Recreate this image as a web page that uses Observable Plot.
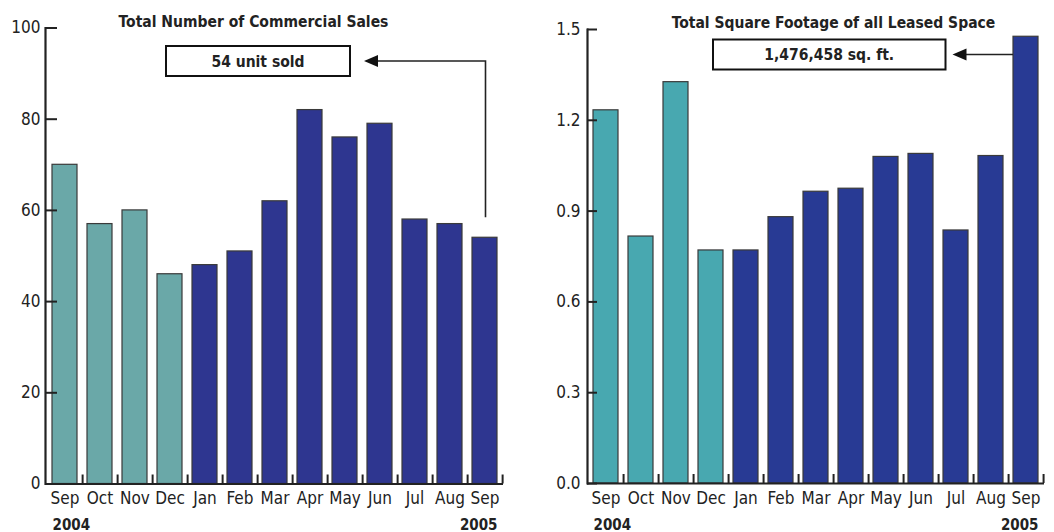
<!DOCTYPE html>
<html><head><meta charset="utf-8">
<script src="https://cdn.jsdelivr.net/npm/d3@7"></script>
<script src="https://cdn.jsdelivr.net/npm/@observablehq/plot@0.6"></script>
<style>
body{margin:0;background:#fff;}
#wrap{display:flex;width:1054px;height:532px;}
</style></head><body><div id="wrap"></div>
<script>
// ---- data ----
const months = ["Sep","Oct","Nov","Dec","Jan","Feb","Mar","Apr","May","Jun","Jul","Aug","Sep"];
const years  = ["2004","2004","2004","2004","2005","2005","2005","2005","2005","2005","2005","2005","2005"];
const sales  = [70,57,60,46,48,51,62,82,76,79,58,57,54];
const footage = [1.233,0.816,1.326,0.770,0.770,0.880,0.964,0.974,1.079,1.089,0.836,1.082,1.476];
const salesTicks = [0,20,40,60,80,100];
const footageTicks = [0,0.3,0.6,0.9,1.2,1.5];
const yearLabels = ["2004","2005"];
const titles = ["Total Number of Commercial Sales","Total Square Footage of all Leased Space"];
const callouts = ["54 unit sold","1,476,458 sq. ft."];

const FONT = '"Liberation Sans Narrow","Arial Narrow","DejaVu Sans Condensed",sans-serif';
const keys = months.map((m,i)=>`${m} ${years[i]}`);

function chart(cfg){
  const W = 527, H = 532;
  const data = keys.map((k,i)=>({key:k, month:months[i], year:years[i], value:cfg.values[i]}));
  const n = keys.length;
  const innerW = W - cfg.ml - cfg.mr, innerH = H - cfg.mt - cfg.mb;
  const step = innerW / n;
  const pi = 0.29;
  const svg = Plot.plot({
    width: W, height: H,
    marginLeft: cfg.ml, marginRight: cfg.mr, marginTop: cfg.mt, marginBottom: cfg.mb,
    style: {fontFamily: FONT, fontSize: "17px", color: "#222", background: "#fff"},
    x: {type: "band", domain: keys, paddingInner: pi, paddingOuter: pi/2, label: null},
    y: {domain: [0, cfg.ticks[cfg.ticks.length-1]], label: null},
    color: {domain: yearLabels, range: cfg.colors},
    marks: [
      Plot.barY(data, {x: "key", y: "value", fill: "year", stroke: "#3a3a3a", strokeWidth: 1.2}),
      Plot.axisY({ticks: cfg.ticks, tickSize: 0, tickPadding: cfg.tp, tickFormat: cfg.fmt, fontSize: 17, label: null}),
      Plot.ruleY(cfg.ticks, {y: d=>d, insetRight: innerW - cfg.tl, stroke: "#222", strokeWidth: 2}),
      Plot.ruleX(keys, {x: d=>d, dx: step/2, insetTop: innerH - 9, stroke: "#222", strokeWidth: 2}),
      Plot.axisX({tickSize: 0, tickPadding: 8, tickFormat: (d)=>d.split(" ")[0], fontSize: 17, label: null}),
      Plot.frame({anchor: "left", stroke: "#222", strokeWidth: 2.2}),
      Plot.ruleY([0], {stroke: "#222", strokeWidth: 2.2}),
      Plot.text([keys[0]], {x: d=>d, text: ()=>yearLabels[0], frameAnchor: "bottom", textAnchor: "start", lineAnchor: "bottom", dx: -(step*(1-pi))/2, dy: 46, fontWeight: "bold", fontSize: 15}),
      Plot.text([keys[n-1]], {x: d=>d, text: ()=>yearLabels[1], frameAnchor: "bottom", textAnchor: "end", lineAnchor: "bottom", dx: (step*(1-pi))/2, dy: 46, fontWeight: "bold", fontSize: 15}),
      Plot.text([cfg.title], {text: d=>d, frameAnchor: "top-left", dx: cfg.titleDx, dy: cfg.titleDy, lineAnchor: "bottom", textAnchor: "middle", fontWeight: "bold", fontSize: 15.5})
    ]
  });
  const root = d3.select(svg);
  // callout box + arrow
  const xs = svg.scale("x"), ys = svg.scale("y");
  const g = root.append("g");
  const b = cfg.box;
  g.append("rect").attr("x", b.x).attr("y", b.y).attr("width", b.w).attr("height", b.h)
    .attr("fill", "#fff").attr("stroke", "#111").attr("stroke-width", 2);
  g.append("text").attr("x", b.x + b.w/2).attr("y", b.y + b.h/2).attr("dy", "0.36em")
    .attr("text-anchor", "middle").attr("font-family", FONT).attr("font-weight", "bold")
    .attr("font-size", 15.5).attr("fill", "#222").text(cfg.callout);
  const last = keys[n-1];
  const bx0 = xs.apply(last), bw = xs.bandwidth;
  const ay = b.y + b.h/2;
  const tip = b.x + b.w + cfg.gap;
  let path;
  if (cfg.vertical) {
    const vx = bx0 + bw/2 + 1;
    path = `M${vx},${ys.apply(cfg.values[n-1]) - 20}V${ay}H${tip + 12}`;
  } else {
    path = `M${bx0},${ay}H${tip + 12}`;
  }
  g.append("path").attr("d", path).attr("fill", "none").attr("stroke", "#222").attr("stroke-width", 1.6);
  g.append("path").attr("d", `M${tip},${ay}L${tip+14},${ay-6}L${tip+14},${ay+6}Z`).attr("fill", "#111");
  return svg;
}

const wrap = document.getElementById("wrap");
wrap.append(chart({
  values: sales, ticks: salesTicks, fmt: d3.format("d"), tp: 5, tl: 12,
  colors: ["#6aa8a8", "#2e3690"], ml: 45, mr: 24, mt: 27.5, mb: 48.5,
  title: titles[0], titleDx: 208, titleDy: -1,
  callout: callouts[0], box: {x: 166, y: 46, w: 184, h: 30}, gap: 14, vertical: true
}));
wrap.append(chart({
  values: footage, ticks: footageTicks, fmt: d3.format(".1f"), tp: 7, tl: 10,
  colors: ["#48a8b0", "#283a94"], ml: 60, mr: 10, mt: 29, mb: 49,
  title: titles[1], titleDx: 246, titleDy: -2,
  callout: callouts[1], box: {x: 186, y: 39.5, w: 232.5, h: 30}, gap: 7, vertical: false
}));
</script></body></html>
